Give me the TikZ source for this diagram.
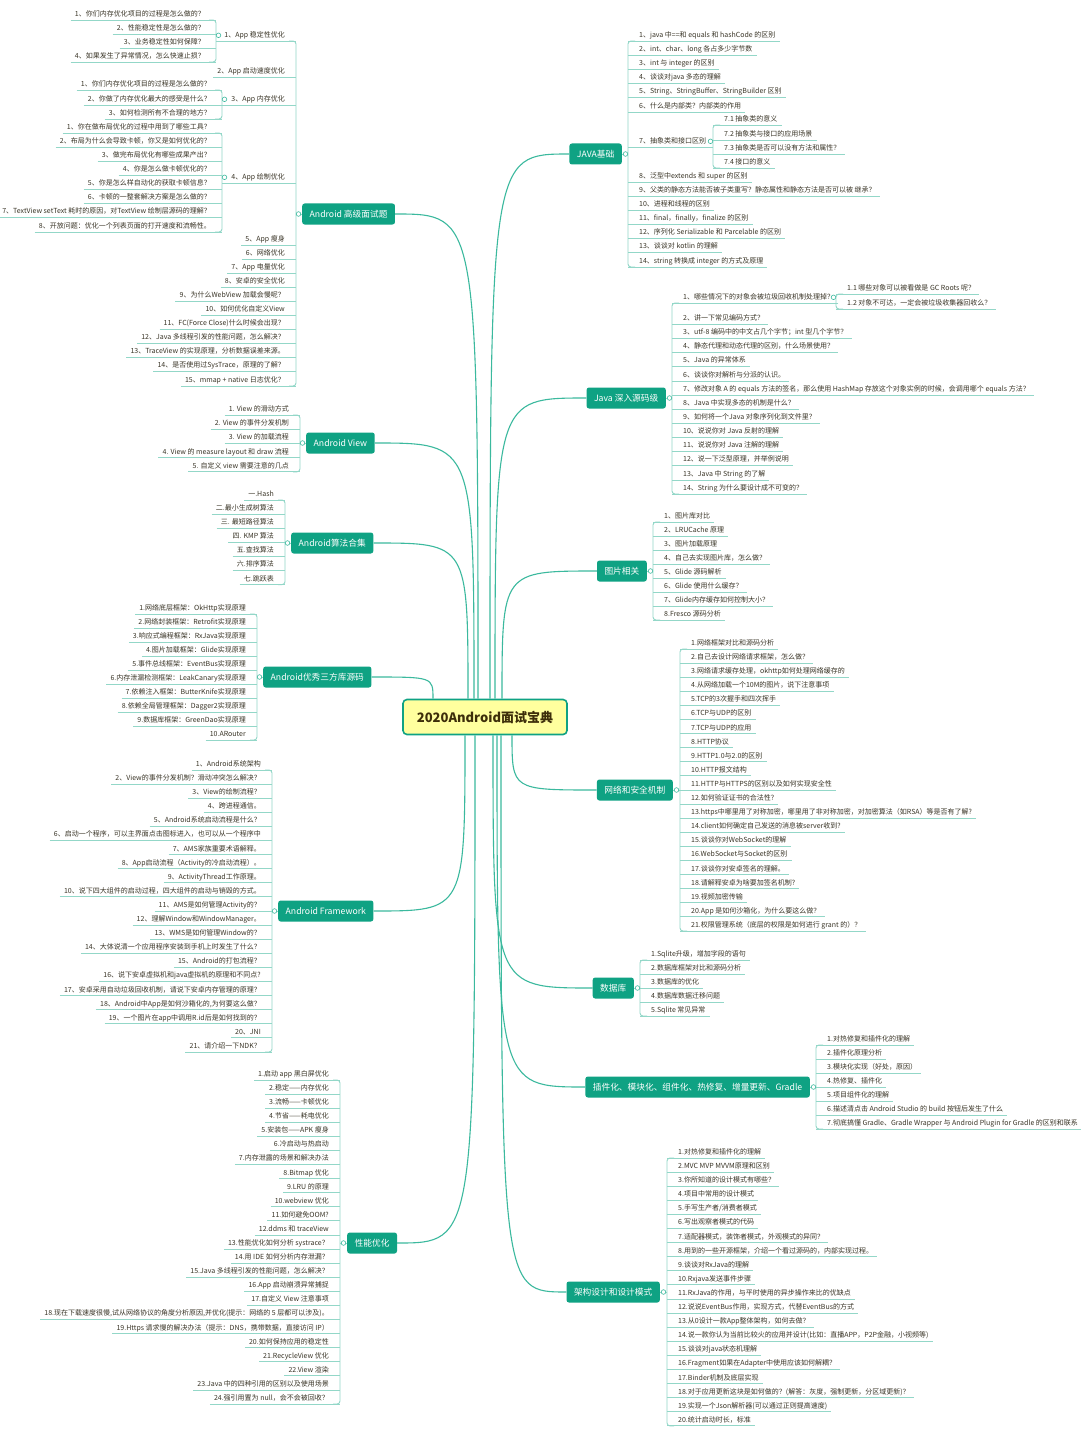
\documentclass[tikz,border=0pt]{standalone}
\usepackage{fontspec}
\setmainfont{Noto Sans CJK SC}
\usepackage{tikz}
\definecolor{topicgreen}{HTML}{0FA283}
\definecolor{trunkgreen}{HTML}{3BB99E}
\definecolor{palegreen}{HTML}{93D7C8}
\definecolor{rootyellow}{HTML}{FFFF9E}
\definecolor{rootink}{HTML}{3D2E0A}
\definecolor{leafink}{HTML}{3A3527}
\tikzstyle{rootbox} = [draw=topicgreen, fill=rootyellow, line width=1.6pt,
    rectangle, rounded corners=4pt, minimum width=164pt, minimum height=35pt,
    text=rootink, font=\fontsize{13}{15}\selectfont\bfseries]
\tikzstyle{topicbox} = [fill=topicgreen, text=white, rectangle, rounded corners=2.5pt,
    minimum height=21pt, inner xsep=7.5pt, font=\fontsize{8.7}{10}\selectfont]
\tikzstyle{leafbox} = [inner xsep=4pt, inner ysep=2pt, text height=5.6pt, text depth=1.4pt,
    text=leafink, font=\fontsize{7}{8}\selectfont]
\tikzstyle{leafL} = [leafbox, anchor=south east]
\tikzstyle{leafR} = [leafbox, anchor=south west]
\tikzstyle{uline} = [draw=palegreen, line width=0.9pt]
\tikzstyle{bline} = [uline, rounded corners=3pt]
\tikzstyle{trunk} = [draw=trunkgreen, line width=1.1pt]
\tikzstyle{knob} = [circle, draw=trunkgreen, fill=white, line width=0.6pt,
    inner sep=0pt, minimum size=4.6pt]

\begin{document}
\begin{tikzpicture}[x=1pt, y=-1pt]
\fill[white] (0,0) rectangle (1080,1434);
\useasboundingbox (0,0) rectangle (1080,1434);

\node[rootbox] (root) at (485,717) {2020Android面试宝典};

% Android 高级面试题
\node[topicbox, anchor=west] (adv) at (302,214) {Android 高级面试题};
\coordinate (advbar) at (296,0);
\foreach \y/\q [count=\i] in {41/{1、App 稳定性优化}, 77/{2、App 启动速度优化}, 105/{3、App 内存优化},
    183/{4、App 绘制优化}, 245/{5、App 瘦身}, 259/{6、网络优化}, 273/{7、App 电量优化}, 287/{8、安卓的安全优化},
    301/{9、为什么WebView 加载会慢呢？}, 315/{10、如何优化自定义View}, 329/{11、FC(Force Close)什么时候会出现？},
    343/{12、Java 多线程引发的性能问题，怎么解决？}, 357/{13、TraceView 的实现原理，分析数据误差来源。},
    371/{14、是否使用过SysTrace，原理的了解？}, 386/{15、mmap + native 日志优化？}}{
    \node[leafL] (adv\i) at (289,\y) {\q};
    \draw[uline] (adv\i.south west) -- (adv\i.south -| advbar);
}
\draw[bline] (adv1.south east) -- (adv1.south -| advbar) -- (adv15.south -| advbar) -- (adv15.south east);
\draw[uline] (advbar |- adv.west) -- (adv.west);
\node[knob, xshift=-3.5pt] (advk) at (adv.west) {};
\coordinate (advAbar) at (216,0);
\foreach \y/\q [count=\i] in {20/{1、你们内存优化项目的过程是怎么做的？}, 34/{2、性能稳定性是怎么做的？},
    48/{3、业务稳定性如何保障？}, 62/{4、如果发生了异常情况，怎么快速止损？}}{
    \node[leafL] (advA\i) at (209,\y) {\q};
    \draw[uline] (advA\i.south west) -- (advA\i.south -| advAbar);
}
\draw[bline] (advA1.south east) -- (advA1.south -| advAbar) -- (advA4.south -| advAbar) -- (advA4.south east);
\draw[uline] (adv1.south -| advAbar) -- (adv1.south west);
\node[knob, xshift=2.5pt] (advAk) at (advAbar |- adv1.center) {};
\coordinate (advBbar) at (222,0);
\foreach \y/\q [count=\i] in {90/{1、你们内存优化项目的过程是怎么做的？}, 105/{2、你做了内存优化最大的感受是什么？},
    119/{3、如何检测所有不合理的地方？}}{
    \node[leafL] (advB\i) at (215,\y) {\q};
    \draw[uline] (advB\i.south west) -- (advB\i.south -| advBbar);
}
\draw[bline] (advB1.south east) -- (advB1.south -| advBbar) -- (advB3.south -| advBbar) -- (advB3.south east);
\draw[uline] (adv3.south -| advBbar) -- (adv3.south west);
\node[knob, xshift=2.5pt] (advBk) at (advBbar |- adv3.center) {};
\coordinate (advCbar) at (222,0);
\foreach \y/\q [count=\i] in {133/{1、你在做布局优化的过程中用到了哪些工具？}, 147/{2、布局为什么会导致卡顿，你又是如何优化的？},
    161/{3、做完布局优化有哪些成果产出？}, 175/{4、你是怎么做卡顿优化的？}, 189/{5、你是怎么样自动化的获取卡顿信息？},
    203/{6、卡顿的一整套解决方案是怎么做的？}, 217/{7、TextView setText 耗时的原因，对TextView 绘制层源码的理解？},
    232/{8、开放问题：优化一个列表页面的打开速度和流畅性。}}{
    \node[leafL] (advC\i) at (215,\y) {\q};
    \draw[uline] (advC\i.south west) -- (advC\i.south -| advCbar);
}
\draw[bline] (advC1.south east) -- (advC1.south -| advCbar) -- (advC8.south -| advCbar) -- (advC8.south east);
\draw[uline] (adv4.south -| advCbar) -- (adv4.south west);
\node[knob, xshift=2.5pt] (advCk) at (advCbar |- adv4.center) {};

% Android View
\node[topicbox, anchor=west] (view) at (306,443) {Android View};
\coordinate (viewbar) at (300,0);
\foreach \q [count=\i] in {{1. View 的滑动方式}, {2. View 的事件分发机制}, {3. View 的加载流程},
    {4. View 的 measure layout 和 draw 流程}, {5. 自定义 view 需要注意的几点}}{
    \node[leafL] (view\i) at (293,{415+14.2*(\i-1)}) {\q};
    \draw[uline] (view\i.south west) -- (view\i.south -| viewbar);
}
\draw[bline] (view1.south east) -- (view1.south -| viewbar) -- (view5.south -| viewbar) -- (view5.south east);
\draw[uline] (viewbar |- view.west) -- (view.west);
\node[knob, xshift=-3.5pt] (viewk) at (view.west) {};

% Android算法合集
\node[topicbox, anchor=west] (algo) at (291,543) {Android算法合集};
\coordinate (algobar) at (285,0);
\foreach \q [count=\i] in {{一.Hash}, {二.最小生成树算法}, {三. 最短路径算法}, {四. KMP 算法},
    {五.查找算法}, {六.排序算法}, {七.跳跃表}}{
    \node[leafL] (algo\i) at (278,{500+14.1*(\i-1)}) {\q};
    \draw[uline] (algo\i.south west) -- (algo\i.south -| algobar);
}
\draw[bline] (algo1.south east) -- (algo1.south -| algobar) -- (algo7.south -| algobar) -- (algo7.south east);
\draw[uline] (algobar |- algo.west) -- (algo.west);
\node[knob, xshift=-3.5pt] (algok) at (algo.west) {};

% Android优秀三方库源码
\node[topicbox, anchor=west] (lib) at (263,677) {Android优秀三方库源码};
\coordinate (libbar) at (257,0);
\foreach \q [count=\i] in {{1.网络底层框架：OkHttp实现原理}, {2.网络封装框架：Retrofit实现原理},
    {3.响应式编程框架：RxJava实现原理}, {4.图片加载框架：Glide实现原理}, {5.事件总线框架：EventBus实现原理},
    {6.内存泄漏检测框架：LeakCanary实现原理}, {7.依赖注入框架：ButterKnife实现原理},
    {8.依赖全局管理框架：Dagger2实现原理}, {9.数据库框架：GreenDao实现原理}, {10.ARouter}}{
    \node[leafL] (lib\i) at (250,{614+14*(\i-1)}) {\q};
    \draw[uline] (lib\i.south west) -- (lib\i.south -| libbar);
}
\draw[bline] (lib1.south east) -- (lib1.south -| libbar) -- (lib10.south -| libbar) -- (lib10.south east);
\draw[uline] (libbar |- lib.west) -- (lib.west);
\node[knob, xshift=-3.5pt] (libk) at (lib.west) {};

% Android Framework
\node[topicbox, anchor=west] (fw) at (278,911) {Android Framework};
\coordinate (fwbar) at (272,0);
\foreach \q [count=\i] in {{1、Android系统架构}, {2、View的事件分发机制？滑动冲突怎么解决？}, {3、View的绘制流程？},
    {4、跨进程通信。}, {5、Android系统启动流程是什么？}, {6、启动一个程序，可以主界面点击图标进入，也可以从一个程序中},
    {7、AMS家族重要术语解释。}, {8、App启动流程（Activity的冷启动流程）。}, {9、ActivityThread工作原理。},
    {10、说下四大组件的启动过程，四大组件的启动与销毁的方式。}, {11、AMS是如何管理Activity的？},
    {12、理解Window和WindowManager。}, {13、WMS是如何管理Window的？}, {14、大体说清一个应用程序安装到手机上时发生了什么？},
    {15、Android的打包流程？}, {16、说下安卓虚拟机和java虚拟机的原理和不同点?},
    {17、安卓采用自动垃圾回收机制，请说下安卓内存管理的原理？}, {18、Android中App是如何沙箱化的,为何要这么做？},
    {19、一个图片在app中调用R.id后是如何找到的？}, {20、JNI}, {21、请介绍一下NDK？}}{
    \node[leafL] (fw\i) at (265,{770+14.1*(\i-1)}) {\q};
    \draw[uline] (fw\i.south west) -- (fw\i.south -| fwbar);
}
\draw[bline] (fw1.south east) -- (fw1.south -| fwbar) -- (fw21.south -| fwbar) -- (fw21.south east);
\draw[uline] (fwbar |- fw.west) -- (fw.west);
\node[knob, xshift=-3.5pt] (fwk) at (fw.west) {};

% 性能优化
\node[topicbox, anchor=west] (perf) at (347,1243) {性能优化};
\coordinate (perfbar) at (340,0);
\foreach \q [count=\i] in {{1.启动 app 黑白屏优化}, {2.稳定——内存优化}, {3.流畅——卡顿优化}, {4.节省——耗电优化},
    {5.安装包——APK 瘦身}, {6.冷启动与热启动}, {7.内存泄露的场景和解决办法}, {8.Bitmap 优化}, {9.LRU 的原理},
    {10.webview 优化}, {11.如何避免OOM?}, {12.ddms 和 traceView}, {13.性能优化如何分析 systrace？},
    {14.用 IDE 如何分析内存泄漏？}, {15.Java 多线程引发的性能问题，怎么解决？}, {16.App 启动崩溃异常捕捉},
    {17.自定义 View 注意事项}, {18.现在下载速度很慢,试从网络协议的角度分析原因,并优化(提示：网络的 5 层都可以涉及)。},
    {19.Https 请求慢的解决办法（提示：DNS，携带数据，直接访问 IP）}, {20.如何保持应用的稳定性},
    {21.RecycleView 优化}, {22.View 渲染}, {23.Java 中的四种引用的区别以及使用场景}, {24.强引用置为 null，会不会被回收？}}{
    \node[leafL] (perf\i) at (333,{1080+14.09*(\i-1)}) {\q};
    \draw[uline] (perf\i.south west) -- (perf\i.south -| perfbar);
}
\draw[bline] (perf1.south east) -- (perf1.south -| perfbar) -- (perf24.south -| perfbar) -- (perf24.south east);
\draw[uline] (perfbar |- perf.west) -- (perf.west);
\node[knob, xshift=-3.5pt] (perfk) at (perf.west) {};

% JAVA基础
\node[topicbox, anchor=east] (jb) at (622,154) {JAVA基础};
\coordinate (jbbar) at (628,0);
\foreach \y/\q [count=\i] in {41/{1、java 中==和 equals 和 hashCode 的区别}, 55/{2、int、char、long 各占多少字节数},
    69/{3、int 与 integer 的区别}, 83/{4、谈谈对java 多态的理解}, 97/{5、String、StringBuffer、StringBuilder 区别},
    112/{6、什么是内部类？内部类的作用}, 147/{7、抽象类和接口区别}, 182/{8、泛型中extends 和 super 的区别},
    196/{9、父类的静态方法能否被子类重写？静态属性和静态方法是否可以被 继承？}, 210/{10、进程和线程的区别},
    224/{11、final，finally，finalize 的区别}, 238/{12、序列化 Serializable 和 Parcelable 的区别},
    252/{13、谈谈对 kotlin 的理解}, 267/{14、string 转换成 integer 的方式及原理}}{
    \node[leafR] (jb\i) at (635,\y) {\q};
    \draw[uline] (jb\i.south -| jbbar) -- (jb\i.south east);
}
\draw[bline] (jb1.south west) -- (jb1.south -| jbbar) -- (jb14.south -| jbbar) -- (jb14.south west);
\draw[uline] (jb.east) -- (jbbar |- jb.east);
\node[knob, xshift=3.5pt] (jbk) at (jb.east) {};
\coordinate (jbAbar) at (713,0);
\foreach \y/\q [count=\i] in {125/{7.1 抽象类的意义}, 140/{7.2 抽象类与接口的应用场景},
    154/{7.3 抽象类是否可以没有方法和属性？}, 168/{7.4 接口的意义}}{
    \node[leafR] (jbA\i) at (720,\y) {\q};
    \draw[uline] (jbA\i.south -| jbAbar) -- (jbA\i.south east);
}
\draw[bline] (jbA1.south west) -- (jbA1.south -| jbAbar) -- (jbA4.south -| jbAbar) -- (jbA4.south west);
\draw[uline] (jb7.south east) -- (jb7.south -| jbAbar);
\node[knob, xshift=-2.5pt] (jbAk) at (jbAbar |- jb7.center) {};

% Java 深入源码级
\node[topicbox, anchor=east] (js) at (666,398) {Java 深入源码级};
\coordinate (jsbar) at (672,0);
\foreach \y/\q [count=\i] in {303/{1、哪些情况下的对象会被垃圾回收机制处理掉？}, 324/{2、讲一下常见编码方式？},
    338/{3、utf-8 编码中的中文占几个字节；int 型几个字节？}, 352/{4、静态代理和动态代理的区别，什么场景使用？},
    366/{5、Java 的异常体系}, 381/{6、谈谈你对解析与分派的认识。},
    395/{7、修改对象 A 的 equals 方法的签名，那么使用 HashMap 存放这个对象实例的时候，会调用哪个 equals 方法？},
    409/{8、Java 中实现多态的机制是什么？}, 423/{9、如何将一个Java 对象序列化到文件里？},
    437/{10、说说你对 Java 反射的理解}, 451/{11、说说你对 Java 注解的理解}, 465/{12、说一下泛型原理，并举例说明},
    480/{13、Java 中 String 的了解}, 494/{14、String 为什么要设计成不可变的？}}{
    \node[leafR] (js\i) at (679,\y) {\q};
    \draw[uline] (js\i.south -| jsbar) -- (js\i.south east);
}
\draw[bline] (js1.south west) -- (js1.south -| jsbar) -- (js14.south -| jsbar) -- (js14.south west);
\draw[uline] (js.east) -- (jsbar |- js.east);
\node[knob, xshift=3.5pt] (jsk) at (js.east) {};
\coordinate (jsAbar) at (836,0);
\foreach \y/\q [count=\i] in {294/{1.1 哪些对象可以被看做是 GC Roots 呢？}, 309/{1.2 对象不可达，一定会被垃圾收集器回收么？}}{
    \node[leafR] (jsA\i) at (843,\y) {\q};
    \draw[uline] (jsA\i.south -| jsAbar) -- (jsA\i.south east);
}
\draw[bline] (jsA1.south west) -- (jsA1.south -| jsAbar) -- (jsA2.south -| jsAbar) -- (jsA2.south west);
\draw[uline] (js1.south east) -- (js1.south -| jsAbar);
\node[knob, xshift=-2.5pt] (jsAk) at (jsAbar |- js1.center) {};

% 图片相关
\node[topicbox, anchor=east] (pic) at (647,571) {图片相关};
\coordinate (picbar) at (653,0);
\foreach \q [count=\i] in {{1、图片库对比}, {2、LRUCache 原理}, {3、图片加载原理}, {4、自己去实现图片库，怎么做？},
    {5、Glide 源码解析}, {6、Glide 使用什么缓存？}, {7、Glide内存缓存如何控制大小？}, {8.Fresco 源码分析}}{
    \node[leafR] (pic\i) at (660,{522+14*(\i-1)}) {\q};
    \draw[uline] (pic\i.south -| picbar) -- (pic\i.south east);
}
\draw[bline] (pic1.south west) -- (pic1.south -| picbar) -- (pic8.south -| picbar) -- (pic8.south west);
\draw[uline] (pic.east) -- (picbar |- pic.east);
\node[knob, xshift=3.5pt] (pick) at (pic.east) {};

% 网络和安全机制
\node[topicbox, anchor=east] (net) at (673,790) {网络和安全机制};
\coordinate (netbar) at (680,0);
\foreach \q [count=\i] in {{1.网络框架对比和源码分析}, {2.自己去设计网络请求框架，怎么做？},
    {3.网络请求缓存处理，okhttp如何处理网络缓存的}, {4.从网络加载一个10M的图片，说下注意事项}, {5.TCP的3次握手和四次挥手},
    {6.TCP与UDP的区别}, {7.TCP与UDP的应用}, {8.HTTP协议}, {9.HTTP1.0与2.0的区别}, {10.HTTP报文结构},
    {11.HTTP与HTTPS的区别以及如何实现安全性}, {12.如何验证证书的合法性?},
    {13.https中哪里用了对称加密，哪里用了非对称加密，对加密算法（如RSA）等是否有了解?},
    {14.client如何确定自己发送的消息被server收到?}, {15.谈谈你对WebSocket的理解}, {16.WebSocket与Socket的区别},
    {17.谈谈你对安卓签名的理解。}, {18.请解释安卓为啥要加签名机制?}, {19.视频加密传输},
    {20.App 是如何沙箱化，为什么要这么做？}, {21.权限管理系统（底层的权限是如何进行 grant 的）？}}{
    \node[leafR] (net\i) at (687,{649+14.1*(\i-1)}) {\q};
    \draw[uline] (net\i.south -| netbar) -- (net\i.south east);
}
\draw[bline] (net1.south west) -- (net1.south -| netbar) -- (net21.south -| netbar) -- (net21.south west);
\draw[uline] (net.east) -- (netbar |- net.east);
\node[knob, xshift=3.5pt] (netk) at (net.east) {};

% 数据库
\node[topicbox, anchor=east] (db) at (634,988) {数据库};
\coordinate (dbbar) at (640,0);
\foreach \q [count=\i] in {{1.Sqlite升级，增加字段的语句}, {2.数据库框架对比和源码分析}, {3.数据库的优化},
    {4.数据库数据迁移问题}, {5.Sqlite 常见异常}}{
    \node[leafR] (db\i) at (647,{960+14*(\i-1)}) {\q};
    \draw[uline] (db\i.south -| dbbar) -- (db\i.south east);
}
\draw[bline] (db1.south west) -- (db1.south -| dbbar) -- (db5.south -| dbbar) -- (db5.south west);
\draw[uline] (db.east) -- (dbbar |- db.east);
\node[knob, xshift=3.5pt] (dbk) at (db.east) {};

% 插件化、模块化、组件化、热修复、增量更新、Gradle
\node[topicbox, anchor=east] (plug) at (810,1087) {插件化、模块化、组件化、热修复、增量更新、Gradle};
\coordinate (plugbar) at (816,0);
\foreach \q [count=\i] in {{1.对热修复和插件化的理解}, {2.插件化原理分析}, {3.模块化实现（好处，原因）},
    {4.热修复、插件化}, {5.项目组件化的理解}, {6.描述清点击 Android Studio 的 build 按钮后发生了什么},
    {7.彻底搞懂 Gradle、Gradle Wrapper 与 Android Plugin for Gradle 的区别和联系}}{
    \node[leafR] (plug\i) at (823,{1045+14*(\i-1)}) {\q};
    \draw[uline] (plug\i.south -| plugbar) -- (plug\i.south east);
}
\draw[bline] (plug1.south west) -- (plug1.south -| plugbar) -- (plug7.south -| plugbar) -- (plug7.south west);
\draw[uline] (plug.east) -- (plugbar |- plug.east);
\node[knob, xshift=3.5pt] (plugk) at (plug.east) {};

% 架构设计和设计模式
\node[topicbox, anchor=east] (arch) at (660,1292) {架构设计和设计模式};
\coordinate (archbar) at (667,0);
\foreach \q [count=\i] in {{1.对热修复和插件化的理解}, {2.MVC MVP MVVM原理和区别}, {3.你所知道的设计模式有哪些？},
    {4.项目中常用的设计模式}, {5.手写生产者/消费者模式}, {6.写出观察者模式的代码}, {7.适配器模式，装饰者模式，外观模式的异同？},
    {8.用到的一些开源框架，介绍一个看过源码的，内部实现过程。}, {9.谈谈对RxJava的理解}, {10.Rxjava发送事件步骤},
    {11.RxJava的作用，与平时使用的异步操作来比的优缺点}, {12.说说EventBus作用，实现方式，代替EventBus的方式},
    {13.从0设计一款App整体架构，如何去做？}, {14.说一款你认为当前比较火的应用并设计(比如：直播APP，P2P金融，小视频等)},
    {15.谈谈对java状态机理解}, {16.Fragment如果在Adapter中使用应该如何解耦？}, {17.Binder机制及底层实现},
    {18.对于应用更新这块是如何做的？(解答：灰度，强制更新，分区域更新)？}, {19.实现一个Json解析器(可以通过正则提高速度)},
    {20.统计启动时长，标准}}{
    \node[leafR] (arch\i) at (674,{1158+14.1*(\i-1)}) {\q};
    \draw[uline] (arch\i.south -| archbar) -- (arch\i.south east);
}
\draw[bline] (arch1.south west) -- (arch1.south -| archbar) -- (arch20.south -| archbar) -- (arch20.south west);
\draw[uline] (arch.east) -- (archbar |- arch.east);
\node[knob, xshift=3.5pt] (archk) at (arch.east) {};

% trunks from the root
\coordinate[xshift=-7pt] (advs) at (root.north);
\coordinate[xshift=-11pt] (views) at (root.north);
\coordinate[xshift=-17pt] (algos) at (root.north);
\coordinate[xshift=-52pt] (libs) at (root.north);
\coordinate[xshift=-20pt] (fws) at (root.south);
\coordinate[xshift=-10pt] (perfs) at (root.south);
\coordinate[xshift=5pt] (jbs) at (root.north);
\coordinate[xshift=10pt] (jss) at (root.north);
\coordinate[xshift=17pt] (pics) at (root.north);
\coordinate[xshift=27pt] (nets) at (root.south);
\coordinate[xshift=8pt] (dbs) at (root.south);
\coordinate[xshift=12pt] (plugs) at (root.south);
\coordinate[xshift=16pt] (archs) at (root.south);
\draw[trunk] (advs) .. controls (advs |- adv.east) .. (adv.east);
\draw[trunk] (views) .. controls (views |- view.east) .. (view.east);
\draw[trunk] (algos) .. controls (algos |- algo.east) .. (algo.east);
\draw[trunk] (libs) .. controls (libs |- lib.east) .. (lib.east);
\draw[trunk] (fws) .. controls (fws |- fw.east) .. (fw.east);
\draw[trunk] (perfs) .. controls (perfs |- perf.east) .. (perf.east);
\draw[trunk] (jbs) .. controls (jbs |- jb.west) .. (jb.west);
\draw[trunk] (jss) .. controls (jss |- js.west) .. (js.west);
\draw[trunk] (pics) .. controls (pics |- pic.west) .. (pic.west);
\draw[trunk] (nets) .. controls (nets |- net.west) .. (net.west);
\draw[trunk] (dbs) .. controls (dbs |- db.west) .. (db.west);
\draw[trunk] (plugs) .. controls (plugs |- plug.west) .. (plug.west);
\draw[trunk] (archs) .. controls (archs |- arch.west) .. (arch.west);
\end{tikzpicture}
\end{document}
